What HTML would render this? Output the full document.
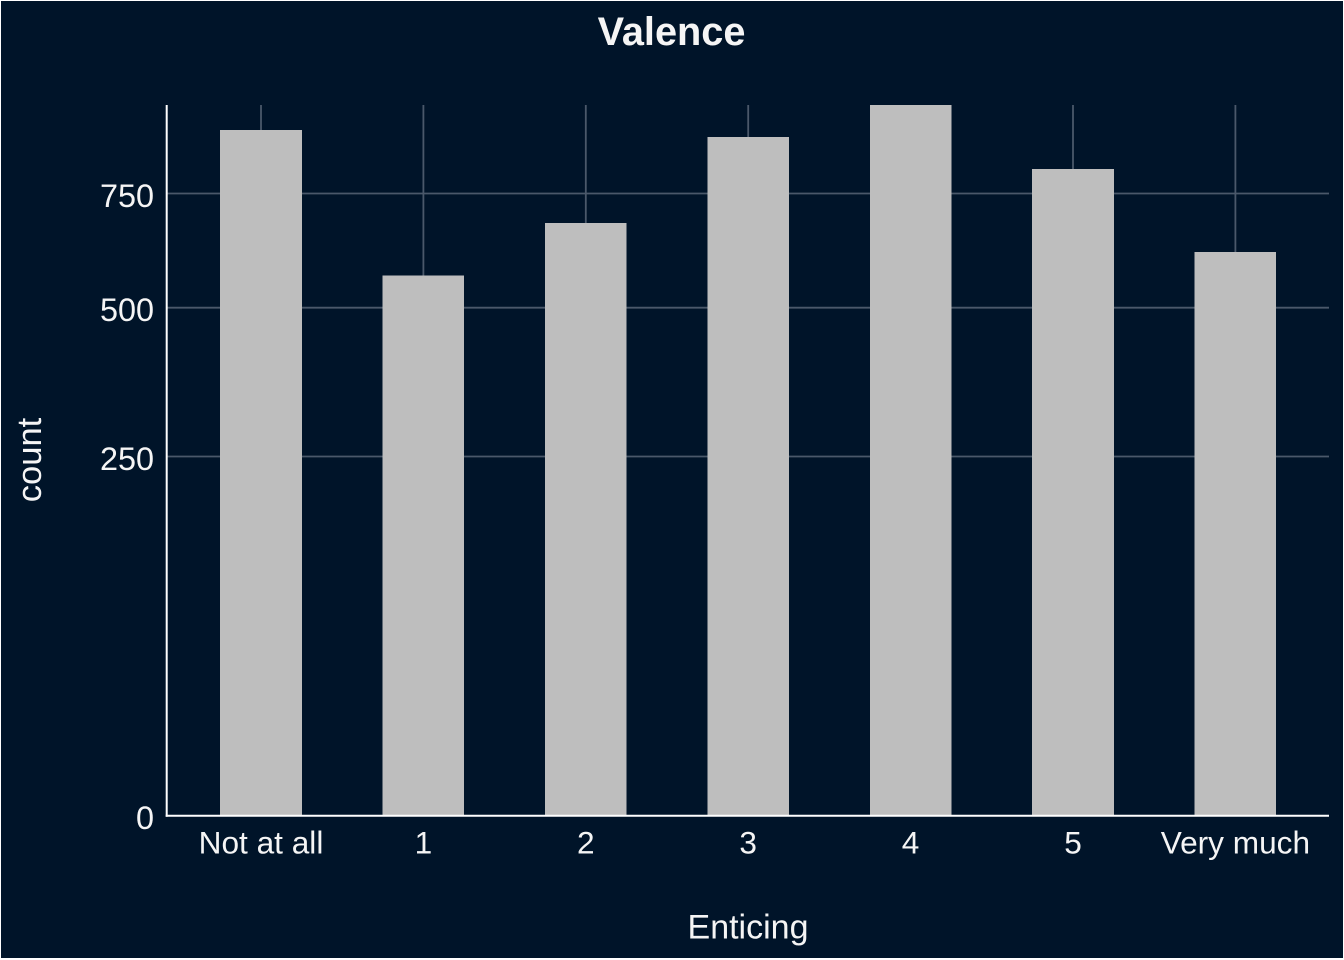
<!DOCTYPE html>
<html lang="en">
<head>
<meta charset="utf-8">
<title>Valence</title>
<style>
html,body{margin:0;padding:0;background:#fff;width:1344px;height:960px;overflow:hidden}
svg{display:block;font-family:"Liberation Sans",Arial,sans-serif}
</style>
</head>
<body>
<svg id="chart" width="1344" height="960" viewBox="0 0 1344 960" xmlns="http://www.w3.org/2000/svg">
  <rect x="1" y="1" width="1342" height="957" fill="#001429"/>
  <g id="grid"></g>
  <g id="bars"></g>
  <g id="axes"></g>
  <text x="671.5" y="45" text-anchor="middle" font-size="39.7" font-weight="700" fill="#f5f5f5">Valence</text>
  <text x="748" y="938.5" text-anchor="middle" font-size="34" fill="#f5f5f5">Enticing</text>
  <text transform="translate(41,460) rotate(-90)" text-anchor="middle" font-size="34.6" fill="#f5f5f5">count</text>
</svg>
<script>
const categories = ["Not at all", "1", "2", "3", "4", "5", "Very much"];
const counts = [911, 565, 681, 893, 979, 810, 616];
const yTickValues = [0, 250, 500, 750];
const yTickLabels = ["0", "250", "500", "750"];

const NS = "http://www.w3.org/2000/svg";
const plot = { left: 166.7, right: 1329, top: 105, bottom: 815.7 };
const sqrtScale = 22.72;
const firstCenter = 261;
const step = 162.4;
const barWidth = 81.6;

function xScale(i) { return firstCenter + step * i; }
function yScale(v) { return plot.bottom - sqrtScale * Math.sqrt(v); }
function make(tag, attrs, parent) {
  const el = document.createElementNS(NS, tag);
  for (const k in attrs) el.setAttribute(k, attrs[k]);
  parent.appendChild(el);
  return el;
}

const grid = document.getElementById("grid");
const barsGroup = document.getElementById("bars");
const axes = document.getElementById("axes");
const gridColor = "#4a586a";
const textColor = "#f5f5f5";

yTickValues.forEach(function (v, i) {
  if (v > 0) {
    const line = make("line", { x1: plot.left, x2: plot.right, y1: yScale(v), y2: yScale(v), stroke: gridColor, "stroke-width": 1.8 }, grid);
    
    
  }
  const label = make("text", { x: 154, y: yScale(v) + 13.3, "text-anchor": "end", "font-size": 32.4, fill: textColor }, axes);
  
  
  label.textContent = yTickLabels[i];
});

categories.forEach(function (c, i) {
  const cx = xScale(i);
  const line = make("line", { x1: cx, x2: cx, y1: plot.top, y2: plot.bottom, stroke: gridColor, "stroke-width": 1.8 }, grid);
  
  

  const top = yScale(counts[i]);
  const bar = make("rect", { x: cx - barWidth / 2, y: top, width: barWidth, height: plot.bottom - top, fill: "#bebebe", "shape-rendering": "crispEdges" }, barsGroup);
  
  

  const label = make("text", { x: cx, y: 853.5, "text-anchor": "middle", "font-size": 31.6, fill: textColor }, axes);
  
  
  label.textContent = c;
});

const yAxis = make("line", { x1: plot.left, x2: plot.left, y1: plot.top, y2: plot.bottom + 1, stroke: "#ffffff", "stroke-width": 2 }, axes);



const xAxis = make("line", { x1: plot.left - 1, x2: plot.right, y1: plot.bottom, y2: plot.bottom, stroke: "#ffffff", "stroke-width": 2 }, axes);


</script>
</body>
</html>
